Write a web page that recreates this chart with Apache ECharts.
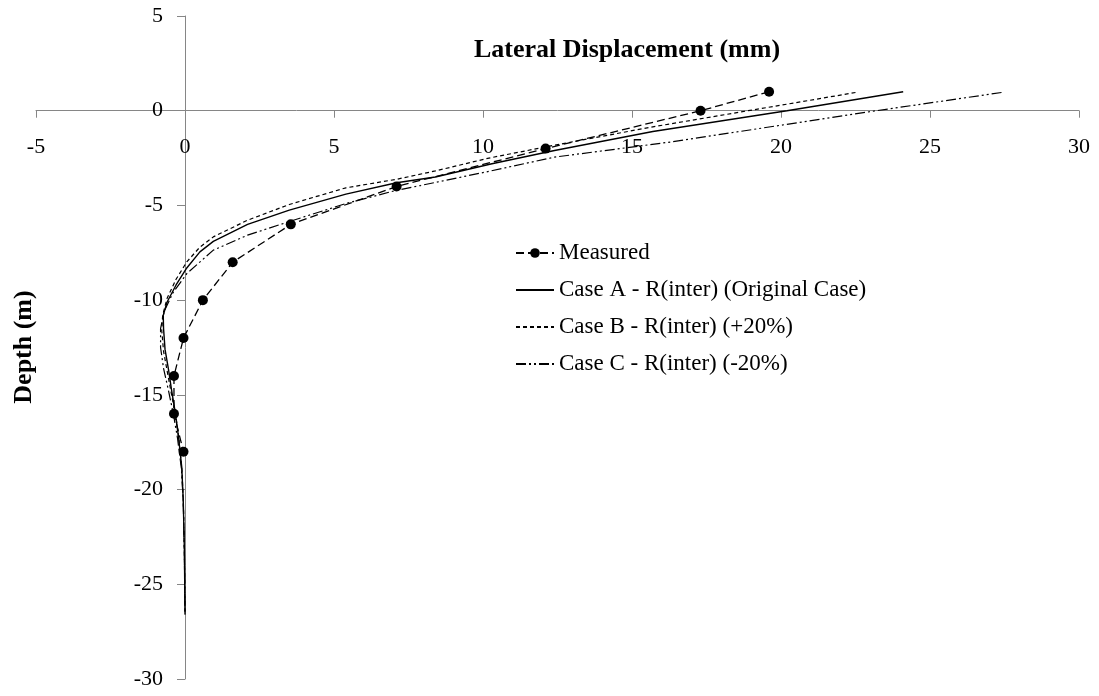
<!DOCTYPE html>
<html>
<head>
<meta charset="utf-8">
<script src="https://cdn.jsdelivr.net/npm/echarts@6/dist/echarts.min.js"></script>
<style>
  html, body { margin: 0; padding: 0; background: #fff; }
  #chart { width: 1099px; height: 696px; }
</style>
</head>
<body>
<div id="chart"></div>
<script>
// Inclinometer readings (lateral displacement in mm against depth in m)
const seriesNames = [
  'Measured',
  'Case A - R(inter) (Original Case)',
  'Case B - R(inter) (+20%)',
  'Case C - R(inter) (-20%)'
];

const measuredDisp  = [19.6, 17.3, 12.1, 7.1, 3.55, 1.6, 0.6, -0.05, -0.37, -0.37, -0.05];
const measuredDepth = [1, 0, -2, -4, -6, -8, -10, -12, -14, -16, -18];

const caseADisp  = [24.1, 20.2, 15.7, 12.4, 10.3, 8.4, 7.1, 5.4, 3.5, 2.1, 0.95, 0.5, 0.06, -0.3, -0.6, -0.73, -0.72, -0.67, -0.55, -0.45, -0.32, -0.22, -0.11, -0.06, -0.02, 0];
const caseADepth = [1.0, 0.0, -1.1, -2.1, -2.8, -3.5, -3.8, -4.4, -5.25, -6.0, -6.9, -7.45, -8.3, -9.2, -10.1, -10.8, -11.5, -12.6, -13.7, -14.75, -16.0, -17.2, -18.8, -20.5, -23.2, -26.6];

const caseBDisp  = [22.5, 18.9, 15.7, 12.4, 10.2, 8.4, 7.1, 5.4, 3.5, 2.1, 0.95, 0.5, 0.06, -0.3, -0.6, -0.75, -0.78, -0.72, -0.58, -0.45, -0.3, -0.2, -0.1, -0.05, -0.02, 0];
const caseBDepth = [0.96, 0.0, -0.85, -1.82, -2.5, -3.18, -3.62, -4.07, -4.95, -5.78, -6.66, -7.2, -7.98, -8.9, -9.9, -10.8, -11.6, -12.7, -13.9, -15.0, -16.2, -17.4, -19.0, -21.0, -23.5, -26.6];

const caseCDisp  = [27.4, 23.2, 16.3, 12.4, 10.2, 7.9, 7.1, 5.4, 3.5, 2.1, 0.95, 0.06, -0.4, -0.7, -0.82, -0.82, -0.72, -0.55, -0.38, -0.25, -0.12, -0.06, -0.02, 0];
const caseCDepth = [0.96, 0.0, -1.65, -2.45, -3.2, -3.95, -4.2, -4.9, -5.85, -6.57, -7.36, -8.6, -9.6, -10.6, -11.5, -12.5, -13.6, -14.8, -16.1, -17.3, -18.9, -20.6, -23.3, -26.6];

const xTicks = { min: -5, max: 30, step: 5 };
const yTicks = { min: -30, max: 5, step: 5 };

const pairs = (xs, ys) => xs.map((x, i) => [x, ys[i]]);

const FONT = '"Liberation Serif", "Times New Roman", serif';
const AXIS_GREY = '#868686';

// plot area in pixels
const GRID = { left: 36, right: 20, top: 16, bottom: 17 };
const W = 1099, H = 696;
const plotW = W - GRID.left - GRID.right;
const plotH = H - GRID.top - GRID.bottom;
// shift each axis from the grid edge to the other axis' zero
const yAxisShift = -plotW * (0 - xTicks.min) / (xTicks.max - xTicks.min);
const xAxisShift = -plotH * (0 - yTicks.min) / (yTicks.max - yTicks.min);

const chart = echarts.init(document.getElementById('chart'), null, { renderer: 'canvas' });

const lineBase = { type: 'line', smooth: false, z: 3 };
const hiddenSymbol = { opacity: 0 };

chart.setOption({
  animation: false,
  backgroundColor: '#ffffff',
  textStyle: { fontFamily: FONT, color: '#000' },
  grid: Object.assign({ containLabel: false, outerBoundsMode: 'none' }, GRID),
  xAxis: {
    type: 'value',
    min: xTicks.min, max: xTicks.max, interval: xTicks.step,
    position: 'bottom',
    offset: xAxisShift,
    axisLine: { onZero: false, lineStyle: { color: AXIS_GREY, width: 1 } },
    axisTick: { show: true, inside: false, length: 7, lineStyle: { color: AXIS_GREY } },
    axisLabel: { margin: 26, fontSize: 22, color: '#000', fontFamily: FONT },
    splitLine: { show: false }
  },
  yAxis: {
    type: 'value',
    min: yTicks.min, max: yTicks.max, interval: yTicks.step,
    position: 'left',
    offset: yAxisShift,
    axisLine: { show: true, onZero: false, lineStyle: { color: AXIS_GREY, width: 1 } },
    axisTick: { show: true, inside: false, length: 8, lineStyle: { color: AXIS_GREY } },
    axisLabel: { margin: 22, fontSize: 22, color: '#000', fontFamily: FONT },
    splitLine: { show: false }
  },
  legend: {
    orient: 'vertical',
    left: 515,
    top: 241,
    padding: 0,
    itemWidth: 38,
    itemHeight: 12,
    itemGap: 13,
    textStyle: { fontSize: 23, color: '#000', fontFamily: FONT, lineHeight: 24 },
    data: [
      { name: seriesNames[0] },
      { name: seriesNames[1], itemStyle: hiddenSymbol },
      { name: seriesNames[2], itemStyle: hiddenSymbol },
      { name: seriesNames[3], itemStyle: hiddenSymbol }
    ]
  },
  graphic: [
    {
      type: 'text',
      x: 627, y: 50,
      style: {
        text: 'Lateral Displacement (mm)',
        fontFamily: FONT, fontSize: 26, fontWeight: 'bold', fill: '#000',
        textAlign: 'center', textVerticalAlign: 'middle'
      }
    },
    {
      type: 'text',
      x: 24, y: 347,
      rotation: Math.PI / 2,
      style: {
        text: 'Depth (m)',
        fontFamily: FONT, fontSize: 26, fontWeight: 'bold', fill: '#000',
        textAlign: 'center', textVerticalAlign: 'middle'
      }
    }
  ],
  series: [
    Object.assign({}, lineBase, {
      name: seriesNames[0],
      data: pairs(measuredDisp, measuredDepth),
      symbol: 'circle', symbolSize: 10, showSymbol: true,
      itemStyle: { color: '#000' },
      lineStyle: { color: '#000', width: 1.3, type: [8, 4] },
      z: 4
    }),
    Object.assign({}, lineBase, {
      name: seriesNames[1],
      data: pairs(caseADisp, caseADepth),
      symbol: 'none', showSymbol: false,
      itemStyle: { color: '#000' },
      lineStyle: { color: '#000', width: 1.4, type: 'solid' }
    }),
    Object.assign({}, lineBase, {
      name: seriesNames[2],
      data: pairs(caseBDisp, caseBDepth),
      symbol: 'none', showSymbol: false,
      itemStyle: { color: '#000' },
      lineStyle: { color: '#000', width: 1.2, type: [4, 3] }
    }),
    Object.assign({}, lineBase, {
      name: seriesNames[3],
      data: pairs(caseCDisp, caseCDepth),
      symbol: 'none', showSymbol: false,
      itemStyle: { color: '#000' },
      lineStyle: { color: '#000', width: 1.2, type: [10, 3, 2, 3, 2, 3] }
    })
  ]
});
</script>
</body>
</html>
